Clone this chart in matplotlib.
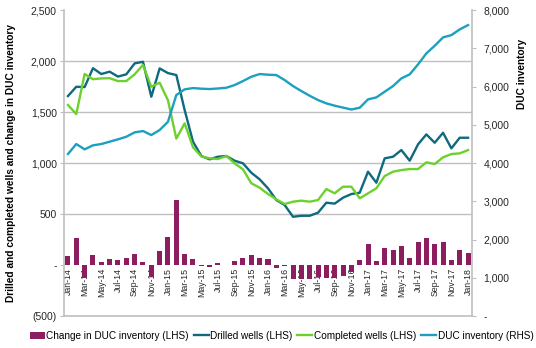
import pandas as pd
import matplotlib
matplotlib.use("Agg")
import matplotlib.pyplot as plt
from matplotlib.ticker import FuncFormatter

# --- Data ---
months = pd.date_range("2014-01-01", "2018-01-01", freq="MS").strftime("%b-%y").tolist()

duc_change = [92, 262, -128, 101, 33, 62, 49, 65, 105, 29,
              -120, 141, 278, 638, 111, 56, -7, -16, 20, -3,
              36, 65, 95, 72, 55, -33, -10, -141, -141, -134,
              -118, -131, -124, -111, -67, 46, 207, 39, 170, 144,
              186, 72, 229, 262, 203, 229, 49, 147, 114]

drilled = [1657, 1748, 1745, 1930, 1873, 1896, 1848, 1870, 1977, 1993,
           1650, 1928, 1882, 1863, 1520, 1210, 1069, 1036, 1062, 1069,
           1023, 997, 905, 840, 752, 637, 588, 473, 483, 483,
           513, 611, 602, 660, 696, 709, 915, 807, 1046, 1062,
           1127, 1023, 1183, 1281, 1199, 1297, 1144, 1248, 1248]

completed = [1569, 1480, 1873, 1822, 1830, 1832, 1804, 1804, 1870, 1962,
             1748, 1788, 1615, 1240, 1389, 1155, 1065, 1046, 1039, 1069,
             997, 938, 801, 758, 696, 644, 598, 621, 631, 621,
             637, 745, 703, 768, 768, 654, 703, 752, 873, 915,
             931, 941, 941, 1007, 990, 1056, 1088, 1095, 1127]

duc_inventory = [4236, 4497, 4358, 4463, 4497, 4558, 4620, 4688, 4802, 4837,
                 4732, 4863, 5080, 5778, 5927, 5960, 5945, 5935, 5950, 5969,
                 6040, 6144, 6257, 6327, 6310, 6301, 6170, 6013, 5883, 5760,
                 5647, 5560, 5500, 5450, 5400, 5446, 5665, 5717, 5865, 6013,
                 6214, 6319, 6580, 6868, 7067, 7286, 7346, 7495, 7608]

lhs_ticks = [-500, 0, 500, 1000, 1500, 2000, 2500]
rhs_ticks = [0, 1000, 2000, 3000, 4000, 5000, 6000, 7000, 8000]

# --- Styling ---
plt.rcParams["font.family"] = ["Liberation Sans", "DejaVu Sans"]
grey = "#BFBFBF"
text_col = "#262626"
c_bar = "#8C1D5E"
c_drill = "#0E6A7C"
c_comp = "#6CD12E"
c_duc = "#1CA0BF"


def fmt_num(v, pos=None):
    if v == 0:
        return "-"
    if v < 0:
        return f"({abs(v):,.0f})"
    return f"{v:,.0f}"


fig = plt.figure(figsize=(5.36, 3.48), dpi=100)
ax = fig.add_axes([0.119, 0.092, 0.762, 0.879])
ax2 = ax.twinx()

x = list(range(len(months)))

# gridlines
for level in [500, 1000, 1500, 2000]:
    ax.axhline(level, color=grey, lw=1.0, zorder=0)

bars = ax.bar(x, duc_change, width=0.6, color=c_bar, zorder=2,
              label="Change in DUC inventory (LHS)")
l1, = ax.plot(x, drilled, color=c_drill, lw=1.7, zorder=3, label="Drilled wells (LHS)")
l2, = ax.plot(x, completed, color=c_comp, lw=1.7, zorder=3, label="Completed wells (LHS)")
l3, = ax2.plot(x, duc_inventory, color=c_duc, lw=1.7, label="DUC inventory (RHS)")

ax.set_xlim(-0.5, len(months) - 0.5)
ax.set_ylim(-500, 2500)
ax2.set_ylim(0, 8000)

ax.set_yticks(lhs_ticks)
ax.yaxis.set_major_formatter(FuncFormatter(fmt_num))
ax2.set_yticks(rhs_ticks)
ax2.yaxis.set_major_formatter(FuncFormatter(fmt_num))

# x labels hang off the zero line
ax.spines["bottom"].set_position(("data", 0))
ax.set_xticks(x[::2])
ax.set_xticklabels(months[::2], rotation=90, fontsize=6.3, color=text_col)
ax.tick_params(axis="x", length=0, pad=2)
ax.axhline(-500, color=grey, lw=1.2, clip_on=False, zorder=1)

for a in (ax, ax2):
    a.spines["top"].set_visible(False)
    a.spines["bottom"].set_visible(False)
    a.spines["left"].set_color(grey)
    a.spines["right"].set_color(grey)
    a.spines["left"].set_linewidth(1.2)
    a.spines["right"].set_linewidth(1.2)
ax2.spines["left"].set_visible(False)
ax.spines["right"].set_visible(False)

ax.tick_params(axis="y", labelsize=7.5, colors=text_col, color=grey, length=3, pad=2)
ax2.tick_params(axis="y", labelsize=7.5, colors=text_col, color=grey, length=3, pad=5)

ax.set_ylabel("Drilled and completed wells and change in DUC inventory",
              fontsize=7.3, fontweight="bold", color="black")
ax.yaxis.set_label_coords(-0.118, 0.5)
ax2.set_ylabel("DUC inventory", fontsize=7.3, fontweight="bold", color="black")
ax2.yaxis.set_label_coords(1.11, 0.79)

fig.legend(handles=[bars, l1, l2, l3], loc="center", bbox_to_anchor=(0.525, 0.035),
           ncol=4, frameon=False, fontsize=7.2, handlelength=1.5,
           handletextpad=0.15, columnspacing=0.5, borderaxespad=0)

fig.savefig("out.png", dpi=100)
